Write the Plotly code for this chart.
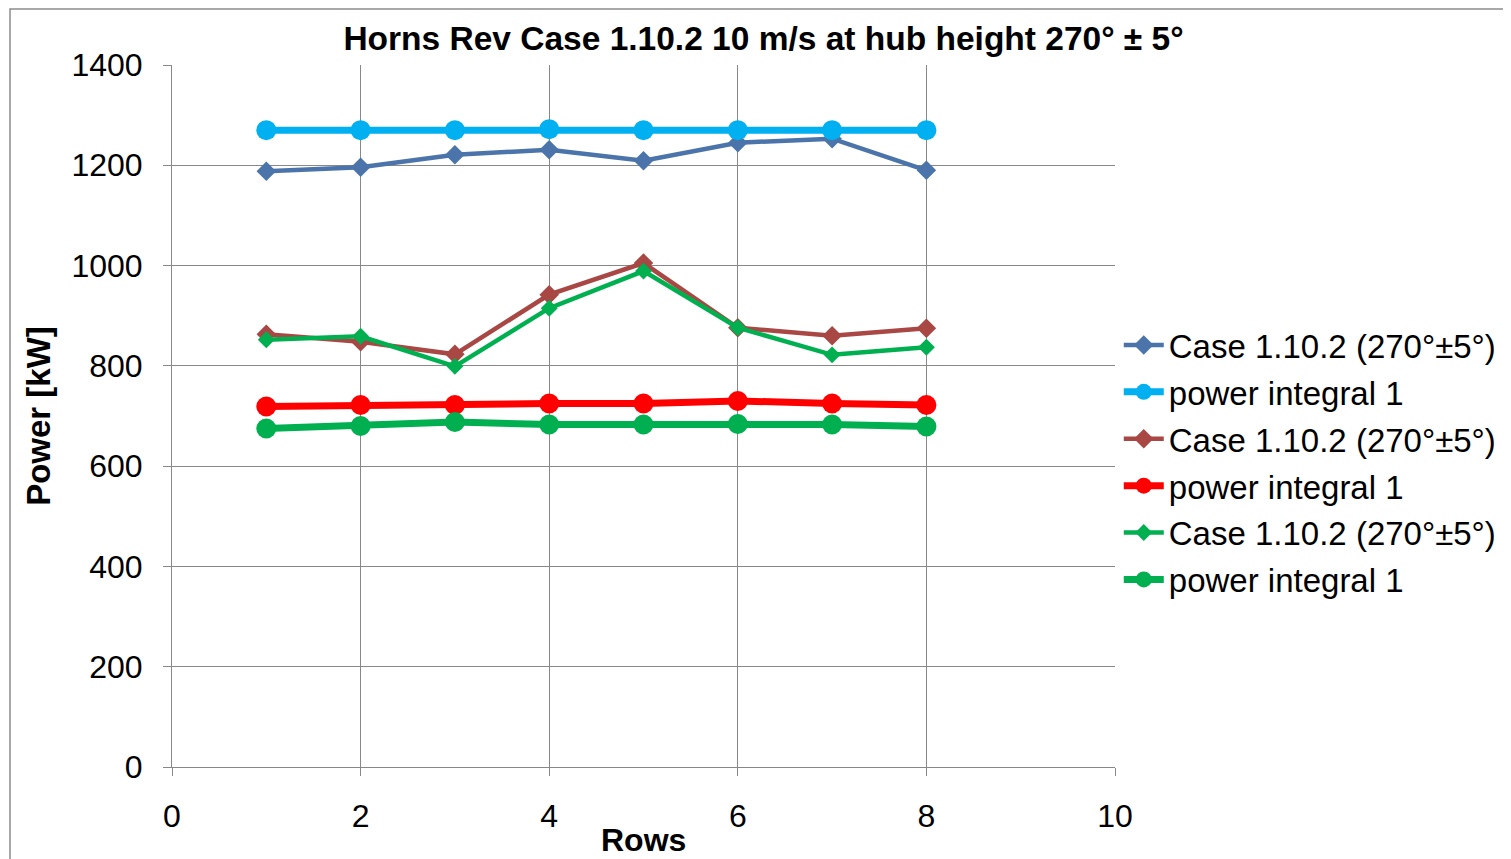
import plotly.graph_objects as go

rows = [1, 2, 3, 4, 5, 6, 7, 8]

case_blue = [1188, 1196, 1221, 1231, 1209, 1245, 1253, 1190]
power_lightblue = [1270, 1270, 1270, 1272, 1270, 1270, 1270, 1270]
case_brown = [863, 848, 823, 942, 1005, 876, 860, 875]
power_red = [719, 722, 722, 725, 725, 730, 725, 722]
case_green = [852, 859, 799, 915, 989, 876, 822, 837]
power_green = [675, 680, 688, 683, 683, 684, 683, 679]

case_name = "Case 1.10.2 (270°±5°)"
power_name = "power integral 1"

FONT = "Liberation Sans, Arial, sans-serif"

series = [
    (case_name, case_blue, "#4A74AA", "diamond", 15, 4.5),
    (power_name, power_lightblue, "#00B0F0", "circle", 20, 7),
    (case_name, case_brown, "#A84743", "diamond", 15, 4.5),
    (power_name, power_red, "#FF0000", "circle", 20, 7),
    (case_name, case_green, "#00B050", "diamond", 13, 4.5),
    (power_name, power_green, "#00B050", "circle", 20, 7),
]

fig = go.Figure()
for i, (name, vals, color, sym, msize, lw) in enumerate(series):
    fig.add_trace(go.Scatter(
        x=rows, y=vals, name=name, mode="lines+markers",
        line=dict(color=color, width=lw),
        marker=dict(symbol=sym, size=msize, color=color),
        legendgroup="g%d" % i,
    ))

axis_common = dict(
    showgrid=True, gridcolor="#888888", gridwidth=1,
    showline=True, linecolor="#888888", linewidth=1,
    ticks="outside", ticklen=8, tickcolor="#888888",
    tickfont=dict(family=FONT, size=32, color="black"),
    zeroline=False, automargin=False,
)

fig.update_xaxes(range=[0, 10], dtick=2, tick0=0, ticklabelstandoff=13, **axis_common)
fig.update_yaxes(range=[0, 1400], dtick=200, tick0=0, ticklabelstandoff=14,
                 title=dict(text="<b>Power [kW]</b>", font=dict(family=FONT, size=33, color="black"), standoff=10),
                 **axis_common)

# page body has an 8px margin, so margins are shifted by 8 to land the plot area where the reference has it
fig.update_layout(
    width=1511, height=859,
    margin=dict(l=164, r=404, t=57, b=100),
    plot_bgcolor="white", paper_bgcolor="white",
    font=dict(family=FONT, color="black"),
    title=dict(text="<b>Horns Rev Case 1.10.2 10 m/s at hub height 270° ± 5°</b>",
               x=0.5, xanchor="center", y=0.965, yanchor="middle",
               font=dict(family=FONT, size=33.5, color="black")),
    legend=dict(x=1.004, xanchor="left", y=0.641, yanchor="top",
                font=dict(family=FONT, size=33, color="black"),
                tracegroupgap=1, traceorder="grouped", itemwidth=40,
                bgcolor="rgba(0,0,0,0)"),
    showlegend=True,
    # x axis title as an annotation so it sits just inside the bottom edge
    annotations=[dict(text="<b>Rows</b>", xref="paper", yref="paper",
                      x=0.5, y=-0.104, xanchor="center", yanchor="middle",
                      showarrow=False, font=dict(family=FONT, size=32, color="black"))],
    shapes=[dict(type="rect", xref="paper", yref="paper",
                 x0=(10 - 172) / 943, x1=(1540 - 172) / 943,
                 y0=-0.2, y1=(767 - 9) / 702,
                 line=dict(color="#8C8C8C", width=1.5), layer="below")],
)

fig.write_html("out.html")
